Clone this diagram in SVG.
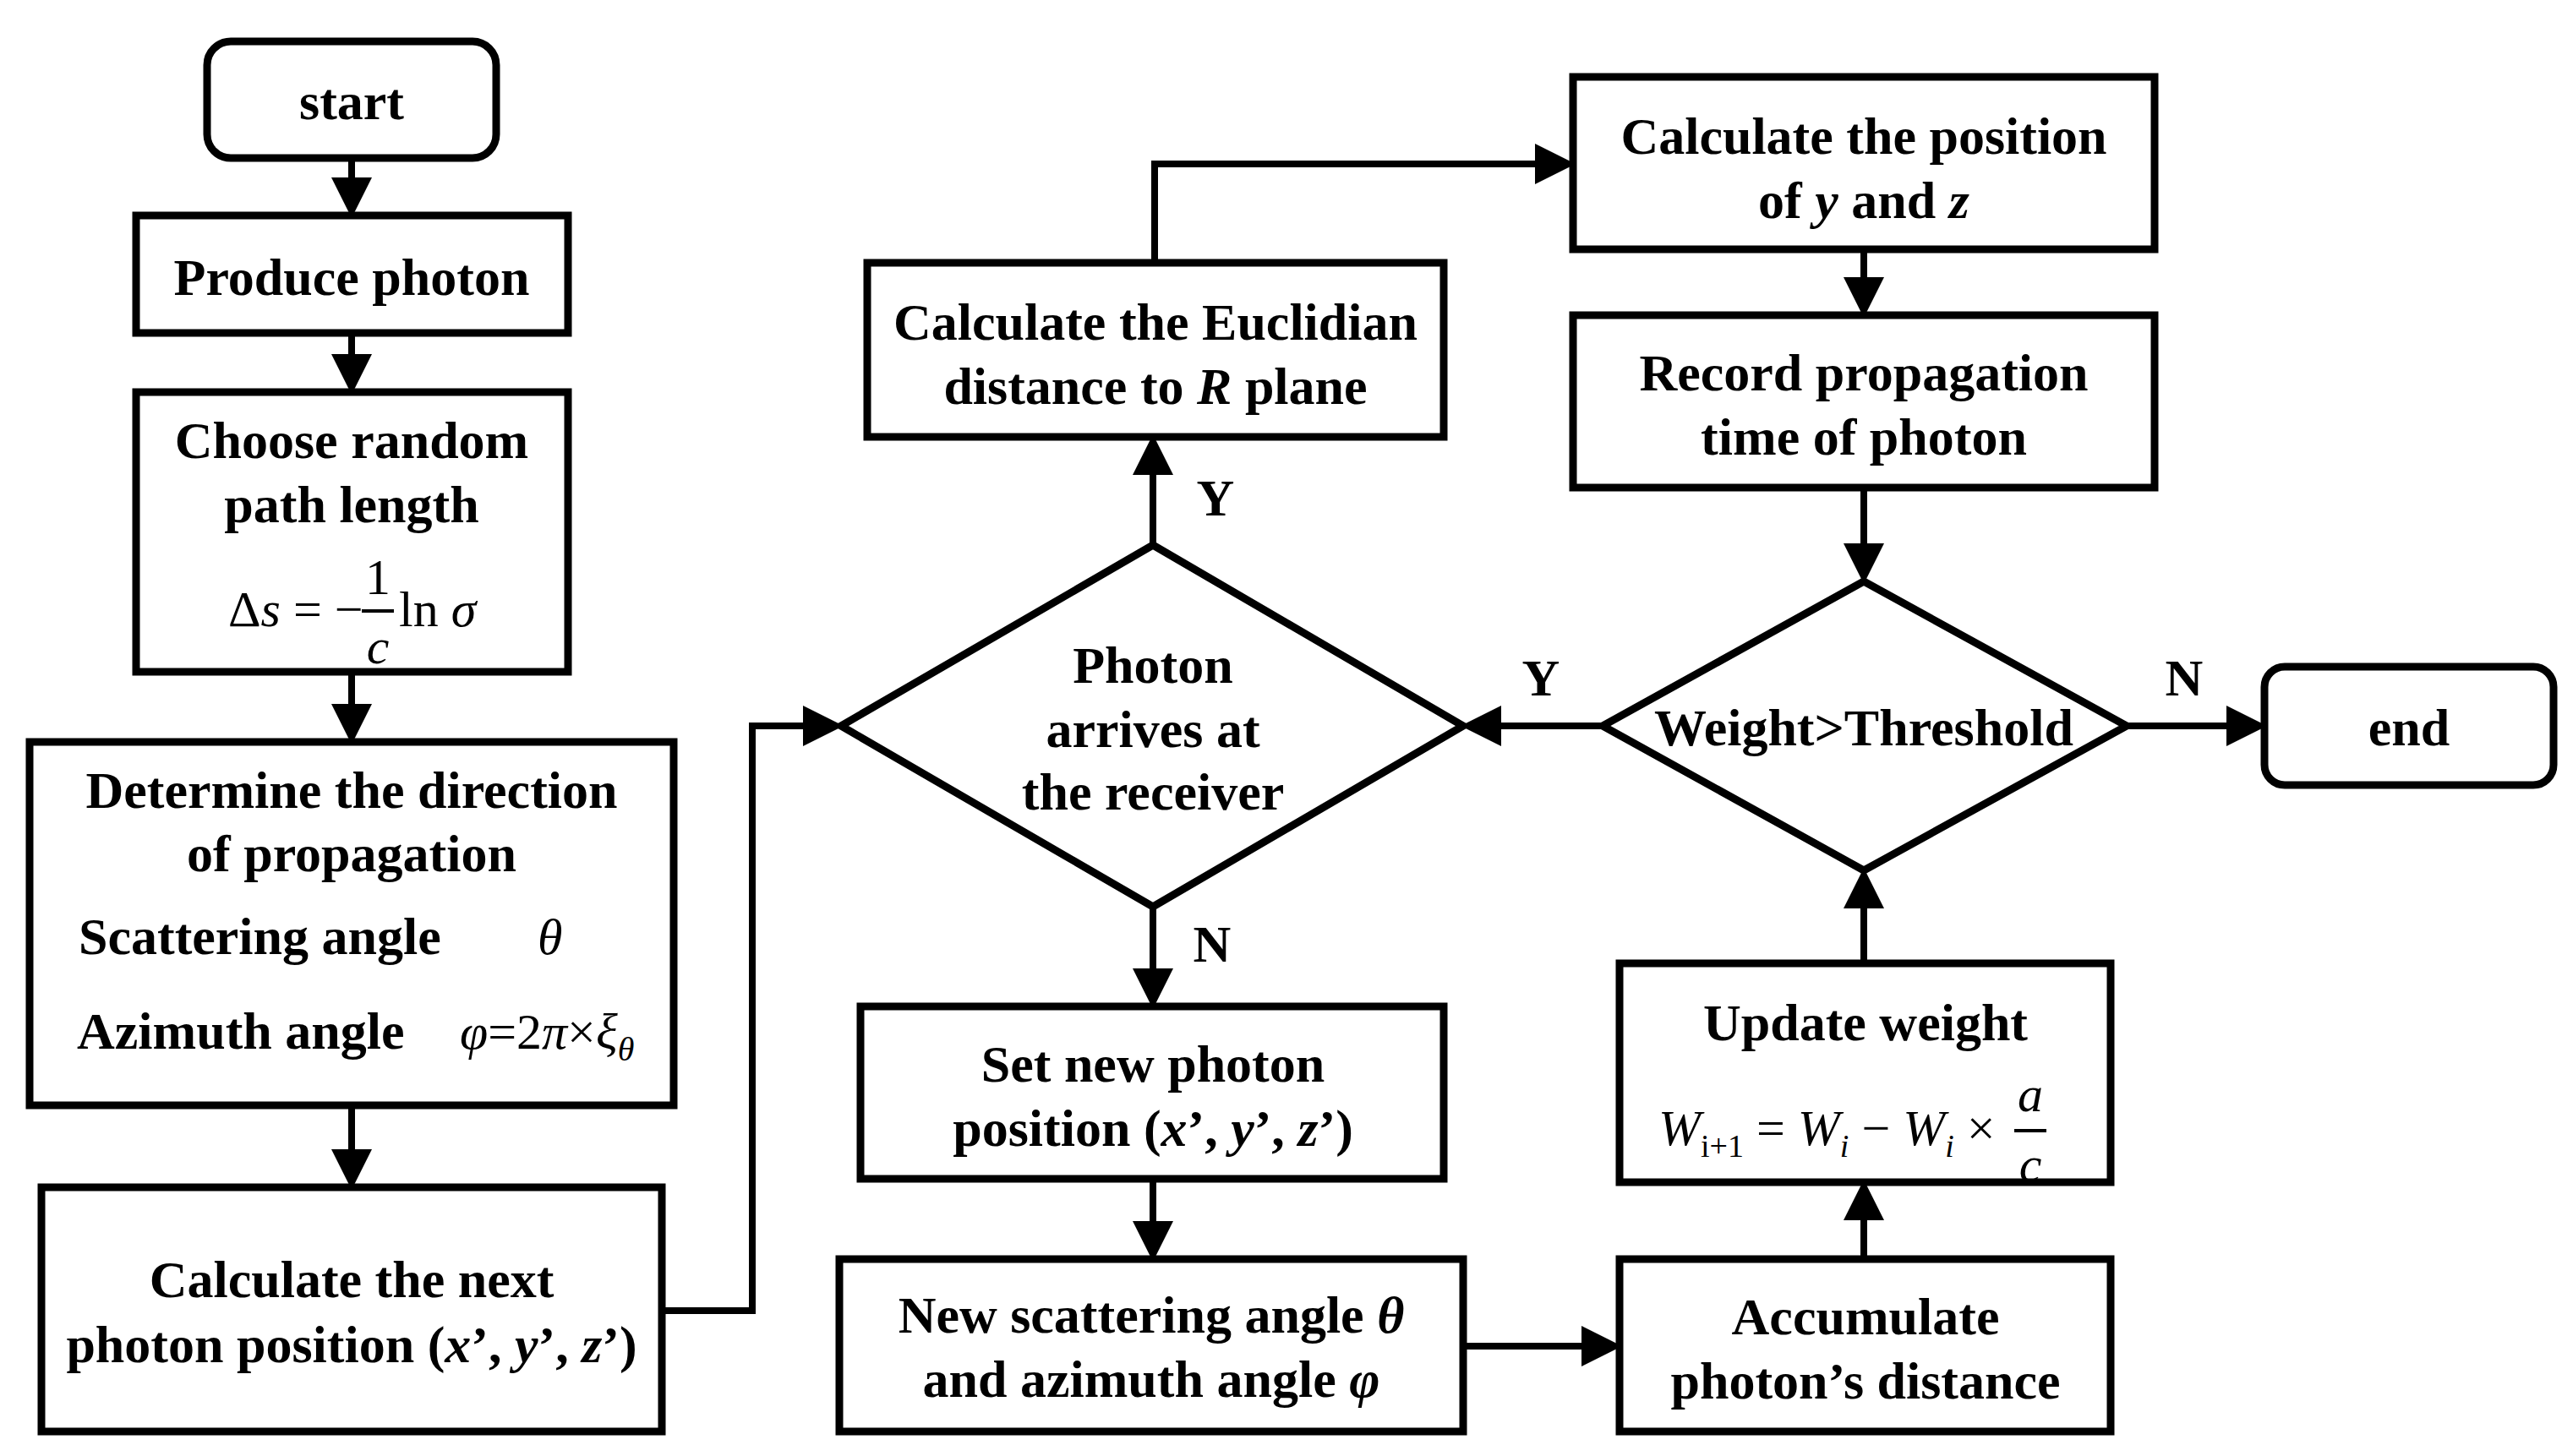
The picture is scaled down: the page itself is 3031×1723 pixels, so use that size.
<svg xmlns="http://www.w3.org/2000/svg" width="3031" height="1723" viewBox="0 0 3031 1723">
<defs>
<style>
.b{fill:#fff;stroke:#000;stroke-width:9}
.t{font-family:"Liberation Serif",serif;font-weight:bold;font-size:62px;text-anchor:middle;fill:#000}
.m{font-family:"Liberation Serif",serif;font-size:60px;fill:#000}
.i{font-style:italic}
.c{fill:none;stroke:#000;stroke-width:8}
</style>
<marker id="a" markerWidth="6" markerHeight="6" refX="5" refY="3" orient="auto" markerUnits="strokeWidth"><path d="M0,0L6,3L0,6Z" fill="#000"/></marker>
</defs>
<rect width="3031" height="1723" fill="#fff"/>
<g id="connectors">
<path class="c" d="M416,187V250" marker-end="url(#a)"/>
<path class="c" d="M416,394V459" marker-end="url(#a)"/>
<path class="c" d="M416,795V873" marker-end="url(#a)"/>
<path class="c" d="M416,1308V1400" marker-end="url(#a)"/>
<path class="c" d="M783,1551H890V859H990" marker-end="url(#a)"/>
<path class="c" d="M1364,645V522" marker-end="url(#a)"/>
<path class="c" d="M1366,311V194H1856" marker-end="url(#a)"/>
<path class="c" d="M2205,295V368" marker-end="url(#a)"/>
<path class="c" d="M2205,577V683" marker-end="url(#a)"/>
<path class="c" d="M1896,859H1736" marker-end="url(#a)"/>
<path class="c" d="M2516,859H2674" marker-end="url(#a)"/>
<path class="c" d="M1364,1073V1186" marker-end="url(#a)"/>
<path class="c" d="M1364,1395V1485" marker-end="url(#a)"/>
<path class="c" d="M1731,1593H1911" marker-end="url(#a)"/>
<path class="c" d="M2205,1490V1404" marker-end="url(#a)"/>
<path class="c" d="M2205,1140V1035" marker-end="url(#a)"/>
<text class="t" x="1438" y="610">Y</text>
<text class="t" x="1823" y="823">Y</text>
<text class="t" x="2584" y="823">N</text>
<text class="t" x="1434" y="1138">N</text>
</g>
<g id="start"><rect class="b" x="245" y="49" width="342" height="138" rx="28"/><text class="t" x="416" y="141">start</text></g>
<g id="produce"><rect class="b" x="161" y="255" width="511" height="139"/><text class="t" x="416" y="349">Produce photon</text></g>
<g id="choose"><rect class="b" x="161" y="464" width="511" height="331"/>
<text class="t" x="416" y="542">Choose random</text><text class="t" x="416" y="618">path length</text>
<text class="m" x="270" y="741">Δ<tspan class="i">s</tspan> = −</text>
<text class="m" x="447" y="703" text-anchor="middle">1</text>
<line x1="428" y1="723" x2="466" y2="723" stroke="#000" stroke-width="4"/>
<text class="m i" x="447" y="785" text-anchor="middle">c</text>
<text class="m" x="472" y="741">ln <tspan class="i">σ</tspan></text></g>
<g id="determine"><rect class="b" x="35" y="878" width="762" height="430"/>
<text class="t" x="416" y="956">Determine the direction</text><text class="t" x="416" y="1031">of propagation</text>
<text class="t" x="93" y="1129" text-anchor="start" style="text-anchor:start">Scattering angle</text>
<text class="m i" x="636" y="1129">θ</text>
<text class="t" x="91" y="1241" style="text-anchor:start">Azimuth angle</text>
<text class="m i" x="544" y="1241">φ<tspan font-style="normal">=2</tspan>π<tspan font-style="normal">×</tspan>ξ<tspan font-size="40" dy="14">θ</tspan></text></g>
<g id="calcnext"><rect class="b" x="49" y="1405" width="734" height="289"/>
<text class="t" x="416" y="1535">Calculate the next</text><text class="t" x="416" y="1612">photon position (<tspan class="i">x</tspan>’, <tspan class="i">y</tspan>’, <tspan class="i">z</tspan>’)</text></g>
<g id="euclid"><rect class="b" x="1026" y="311" width="682" height="206"/>
<text class="t" x="1367" y="402">Calculate the Euclidian</text><text class="t" x="1367" y="478">distance to <tspan class="i">R</tspan> plane</text></g>
<g id="calcpos"><rect class="b" x="1861" y="91" width="688" height="204"/>
<text class="t" x="2205" y="182">Calculate the position</text><text class="t" x="2205" y="258">of <tspan class="i">y</tspan> and <tspan class="i">z</tspan></text></g>
<g id="record"><rect class="b" x="1861" y="373" width="688" height="204"/>
<text class="t" x="2205" y="462">Record propagation</text><text class="t" x="2205" y="538">time of photon</text></g>
<g id="arrives"><path class="b" d="M1364,645L1731,859L1364,1073L995,859Z"/>
<text class="t" x="1364" y="808">Photon</text><text class="t" x="1364" y="884">arrives at</text><text class="t" x="1364" y="958">the receiver</text></g>
<g id="weight"><path class="b" d="M2205,688L2516,859L2205,1030L1896,859Z"/>
<text class="t" x="2205" y="882">Weight&gt;Threshold</text></g>
<g id="end"><rect class="b" x="2679" y="789" width="342" height="140" rx="24"/><text class="t" x="2850" y="882">end</text></g>
<g id="setnew"><rect class="b" x="1018" y="1191" width="690" height="204"/>
<text class="t" x="1364" y="1280">Set new photon</text><text class="t" x="1364" y="1356">position (<tspan class="i">x</tspan>’, <tspan class="i">y</tspan>’, <tspan class="i">z</tspan>’)</text></g>
<g id="newscat"><rect class="b" x="993" y="1490" width="738" height="204"/>
<text class="t" x="1362" y="1577">New scattering angle <tspan class="i">θ</tspan></text><text class="t" x="1362" y="1653">and azimuth angle <tspan class="i">φ</tspan></text></g>
<g id="update"><rect class="b" x="1916" y="1140" width="581" height="259"/>
<text class="t" x="2207" y="1231">Update weight</text>
<text class="m i" x="1962" y="1355">W<tspan font-size="38" dy="14" font-style="normal">i</tspan><tspan font-size="38" font-style="normal">+1</tspan><tspan dy="-14" font-style="normal"> = </tspan>W<tspan font-size="38" dy="14">i</tspan><tspan dy="-14" font-style="normal"> − </tspan>W<tspan font-size="38" dy="14">i</tspan><tspan dy="-14" font-style="normal"> ×</tspan></text>
<text class="m i" x="2402" y="1315" text-anchor="middle">a</text>
<line x1="2383" y1="1338" x2="2421" y2="1338" stroke="#000" stroke-width="4"/>
<text class="m i" x="2402" y="1398" text-anchor="middle">c</text></g>
<g id="accumulate"><rect class="b" x="1916" y="1490" width="581" height="204"/>
<text class="t" x="2207" y="1579">Accumulate</text><text class="t" x="2207" y="1655">photon’s distance</text></g>
</svg>
